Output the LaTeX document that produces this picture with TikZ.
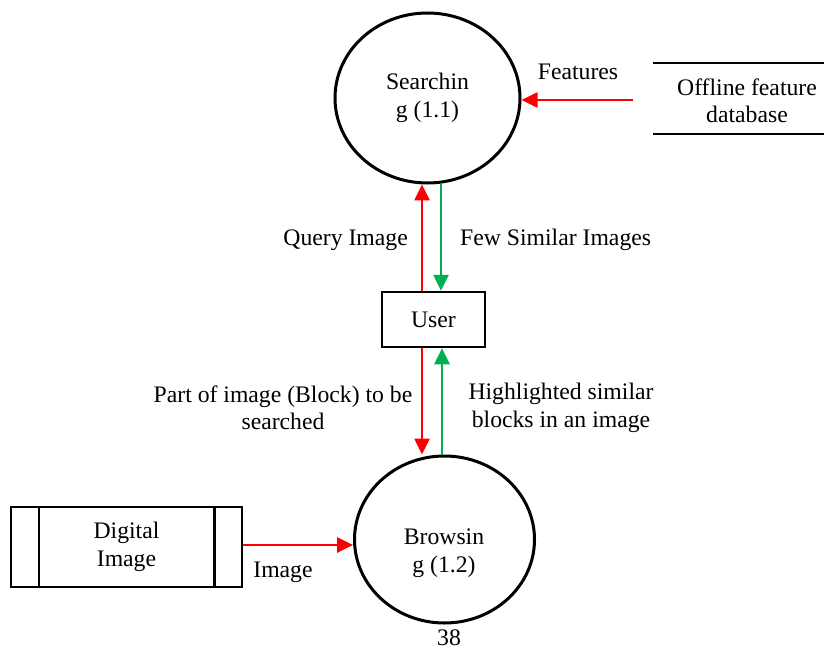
\documentclass[tikz,border=0pt]{standalone}
\usepackage{fontspec}
\setmainfont{Liberation Serif}
\usetikzlibrary{shapes.geometric,arrows.meta}
\definecolor{flowred}{RGB}{255,0,0}
\definecolor{flowgreen}{RGB}{0,176,80}
\begin{document}
\begin{tikzpicture}[x=1pt,y=-1pt,
  every node/.style={font=\fontsize{23.7}{27.5}\selectfont},
  process/.style={ellipse,draw,line width=3pt,inner sep=0pt,
    minimum width=185pt,minimum height=170pt,align=center},
  entity/.style={rectangle,draw,line width=2.5pt,align=center},
  lbl/.style={align=center,inner sep=0pt},
  flow/.style={line width=2.6pt,-{Triangle[length=16pt,width=15pt]}},
  redflow/.style={flow,draw=flowred,fill=flowred},
  greenflow/.style={flow,draw=flowgreen,fill=flowgreen}]
\useasboundingbox (0,0) rectangle (824,647);

% processes
\node[process] (search) at (427.5,98) {Searchin\\g (1.1)};
\node[process,minimum width=180pt,minimum height=167pt] (browse) at (444.5,539.5) {};
\node[lbl] (browsetxt) at (444,553) {Browsin\\g (1.2)};

% external entity
\node[entity,minimum width=103pt,minimum height=55pt] (user) at (433.5,319.5) {User};

% data store
\node[lbl] (db) at (747,101) {Offline feature\\database};
\coordinate (dbtl) at (653,63);
\coordinate (dbbl) at (653,134);
\draw[line width=2.5pt] (dbtl) -- (dbtl -| 830,0);
\draw[line width=2.5pt] (dbbl) -- (dbbl -| 830,0);

% image source
\node[entity,minimum width=231pt,minimum height=80pt] (di) at (126.5,547) {Digital\\Image};
\draw[line width=2.5pt] ([xshift=29pt]di.north west) -- ([xshift=29pt]di.south west);
\draw[line width=2.5pt] ([xshift=-29pt]di.north east) -- ([xshift=-29pt]di.south east);

% flows
\coordinate (fsrc) at (633,100);
\draw[redflow] (fsrc) -- (fsrc -| search.east);
\node[lbl] (lfeat) at (578,72) {Features};

\draw[redflow] (user.north -| 422,0) -- (search.south -| 422,0);
\draw[greenflow] (search.south -| 441,0) -- (user.north -| 441,0);
\node[lbl,anchor=east] (lquery) at (408,240) {Query Image};
\node[lbl,anchor=west] (lfew) at (460,240) {Few Similar Images};

\draw[redflow] (user.south -| 422,0) -- (browse.north -| 422,0);
\draw[greenflow] (browse.north -| 442,0) -- (user.south -| 442,0);
\node[lbl] (lpart) at (283,408) {Part of image (Block) to be\\searched};
\node[lbl] (lhigh) at (561,408) {Highlighted similar\\blocks in an image};

\draw[redflow] (di.east |- 0,545) -- (browse.west |- 0,545);
\node[lbl] (limg) at (283,572) {Image};

% page number
\node[lbl,anchor=south] (pg) at (449,646) {38};
\end{tikzpicture}
\end{document}
